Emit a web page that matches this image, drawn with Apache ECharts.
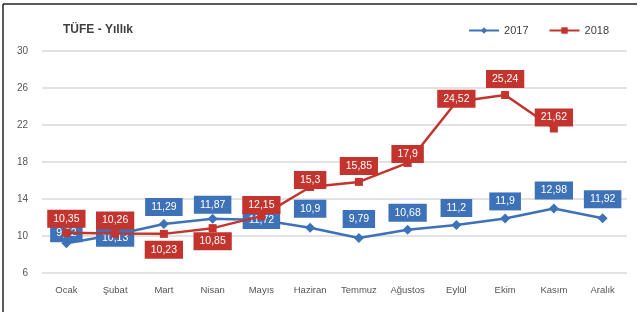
<!DOCTYPE html>
<html>
<head>
<meta charset="utf-8">
<script src="https://cdn.jsdelivr.net/npm/echarts@6/dist/echarts.min.js"></script>
<style>
html,body{margin:0;padding:0;background:#fff;}
#c{width:640px;height:312px;}
</style>
</head>
<body>
<div id="c"></div>
<script>
const categories = ['Ocak','Şubat','Mart','Nisan','Mayıs','Haziran','Temmuz','Ağustos','Eylül','Ekim','Kasım','Aralık'];
const values2017 = [9.22, 10.13, 11.29, 11.87, 11.72, 10.9, 9.79, 10.68, 11.2, 11.9, 12.98, 11.92];
const values2018 = [10.35, 10.26, 10.23, 10.85, 12.15, 15.3, 15.85, 17.9, 24.52, 25.24, 21.62, null];
const yTicks = [6, 10, 14, 18, 22, 26, 30];

// label vertical placement relative to the point (layout only)
const shift2017 = [-10, 3, -17, -14, 0, -19, -19, -17, -17, -17, -18, -19];
const shift2018 = [-14, -13, 16, 13, -11, -7, -16, -9, -3, -16, -11, 0];

const BLUE = '#3d72b8';
const RED = '#c3342e';
const FONT = 'Liberation Sans, Arial, sans-serif';
const fmt = v => String(v).replace('.', ',');

function mk(values, shifts, color) {
  return values.map((v, i) => v === null ? null : {
    value: v,
    label: {
      show: true, position: 'inside', offset: [0, shifts[i]],
      formatter: p => fmt(p.value),
      backgroundColor: color, color: '#fff',
      fontFamily: FONT, fontSize: 10.5,
      padding: [4, 6, 3, 6]
    }
  });
}

const chart = echarts.init(document.getElementById('c'), null, {renderer: 'canvas'});
chart.setOption({
  animation: false,
  backgroundColor: '#fff',
  title: {
    text: 'TÜFE - Yıllık', left: 58, top: 19,
    textStyle: {fontSize: 12, fontWeight: 'bold', color: '#404040', fontFamily: FONT}
  },
  legend: {
    right: 26, top: 20, itemGap: 20, itemWidth: 30, itemHeight: 8,
    textStyle: {fontSize: 11, color: '#404040', fontFamily: FONT},
    data: ['2017', '2018']
  },
  grid: {left: 42, right: 13, top: 51, bottom: 39},
  xAxis: {
    type: 'category', data: categories, boundaryGap: true,
    axisLine: {show: false}, axisTick: {show: false},
    axisLabel: {color: '#555', fontSize: 9.5, margin: 12, interval: 0, fontFamily: FONT}
  },
  yAxis: {
    type: 'value', min: yTicks[0], max: yTicks[yTicks.length - 1], interval: 4,
    axisLine: {show: false}, axisTick: {show: false},
    axisLabel: {color: '#555', fontSize: 10, margin: 14, fontFamily: FONT},
    splitLine: {lineStyle: {color: '#d9d9d9', width: 1.5}}
  },
  series: [
    {
      name: '2017', type: 'line', data: mk(values2017, shift2017, BLUE),
      symbol: 'diamond', symbolSize: 10, itemStyle: {color: BLUE},
      lineStyle: {color: BLUE, width: 2.5}, z: 2
    },
    {
      name: '2018', type: 'line', data: mk(values2018, shift2018, RED),
      symbol: 'rect', symbolSize: 8, itemStyle: {color: RED},
      lineStyle: {color: RED, width: 2.5}, z: 3
    }
  ],
  graphic: [
    {type: 'line', shape: {x1: 3, y1: 4, x2: 637, y2: 4}, style: {stroke: '#222', lineWidth: 1.5}},
    {type: 'line', shape: {x1: 3, y1: 4, x2: 3, y2: 312}, style: {stroke: '#222', lineWidth: 1.5}}
  ]
});
</script>
</body>
</html>
